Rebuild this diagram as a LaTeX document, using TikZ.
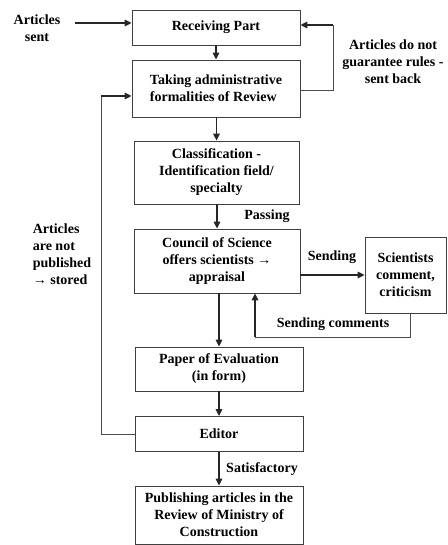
\documentclass[tikz,border=0pt]{standalone}
\usepackage{fontspec}
\setmainfont{Liberation Serif}
\usetikzlibrary{arrows.meta}
\tikzset{
  every node/.style={font=\fontsize{14}{17}\selectfont\bfseries, text=black},
  box/.style={draw=black!75, line width=0.8pt, rectangle, align=center, inner sep=2pt},
  lbl/.style={align=center, inner sep=0pt},
  arr/.style={line width=1.5pt, black!85, -{Triangle[length=7pt,width=6.5pt]}},
  thinline/.style={line width=0.8pt, black!70},
}
\begin{document}
\begin{tikzpicture}[x=1pt,y=-1pt]
\useasboundingbox (0,0) rectangle (447,545);
% boxes
\node[box, minimum width=168pt, minimum height=35pt] (recv) at (216,27.5) {Receiving Part};
\node[box, minimum width=168pt, minimum height=57pt, align=left] (take) at (216,88.5) {Taking administrative\\formalities of Review};
\node[box, minimum width=165pt, minimum height=63pt] (class) at (216.5,172.5) {Classification -\\Identification field/\\specialty};
\node[box, minimum width=166pt, minimum height=64pt] (council) at (217,261) {Council of Science\\offers scientists →\\appraisal};
\node[box, minimum width=81pt, minimum height=76pt] (sci) at (405.5,275) {Scientists\\comment,\\criticism};
\node[box, minimum width=168pt, minimum height=44pt] (paper) at (219,369) {Paper of Evaluation\\(in form)};
\node[box, minimum width=168pt, minimum height=35pt] (editor) at (219,434) {Editor};
\node[box, minimum width=168pt, minimum height=58pt] (pub) at (219,515) {Publishing articles in the\\Review of Ministry of\\Construction};
% labels
\node[lbl] (sent) at (37,28) {Articles\\sent};
\node[lbl] (back) at (393,62) {Articles do not\\guarantee rules -\\sent back};
\node[lbl, align=left] (stored) at (62,254) {Articles\\are not\\published\\→ stored};
\node[lbl] (passing) at (267,216) {Passing};
\node[lbl] (sending) at (332,257) {Sending};
\node[lbl] (comments) at (333,324) {Sending comments};
\node[lbl] (satis) at (262,469) {Satisfactory};
% coordinates
\coordinate (a0) at (75,23);
\coordinate (r1) at (333,90);
\coordinate (r2) at (333,25);
\coordinate (l1) at (101,434);
\coordinate (l2) at (101,96);
\coordinate (c1) at (410,337);
\coordinate (c2) at (255,337);
% arrows
\draw[arr] (a0) -- (recv.west |- a0);
\draw[arr] (recv) -- (take);
\draw[arr] (take.south -| class.north) -- (class.north);
\draw[arr] (class.south -| council.north) -- (council.north);
\draw[arr] (council.east |- sci) -- (sci.west);
\draw[arr] (council.south -| paper.north) -- (paper.north);
\draw[arr] (paper) -- (editor);
\draw[arr] (editor) -- (pub);
% right loop
\draw[thinline] (take.east |- r1) -- (r1) -- (r2);
\draw[arr] (r2) -- (recv.east |- r2);
% left loop
\draw[thinline] (editor.west) -- (l1) -- (l2);
\draw[arr] (l2) -- (take.west |- l2);
% comments loop
\draw[thinline] (sci.south -| c1) -- (c1) -- (c2);
\draw[arr] (c2) -- (council.south -| c2);
\end{tikzpicture}
\end{document}
